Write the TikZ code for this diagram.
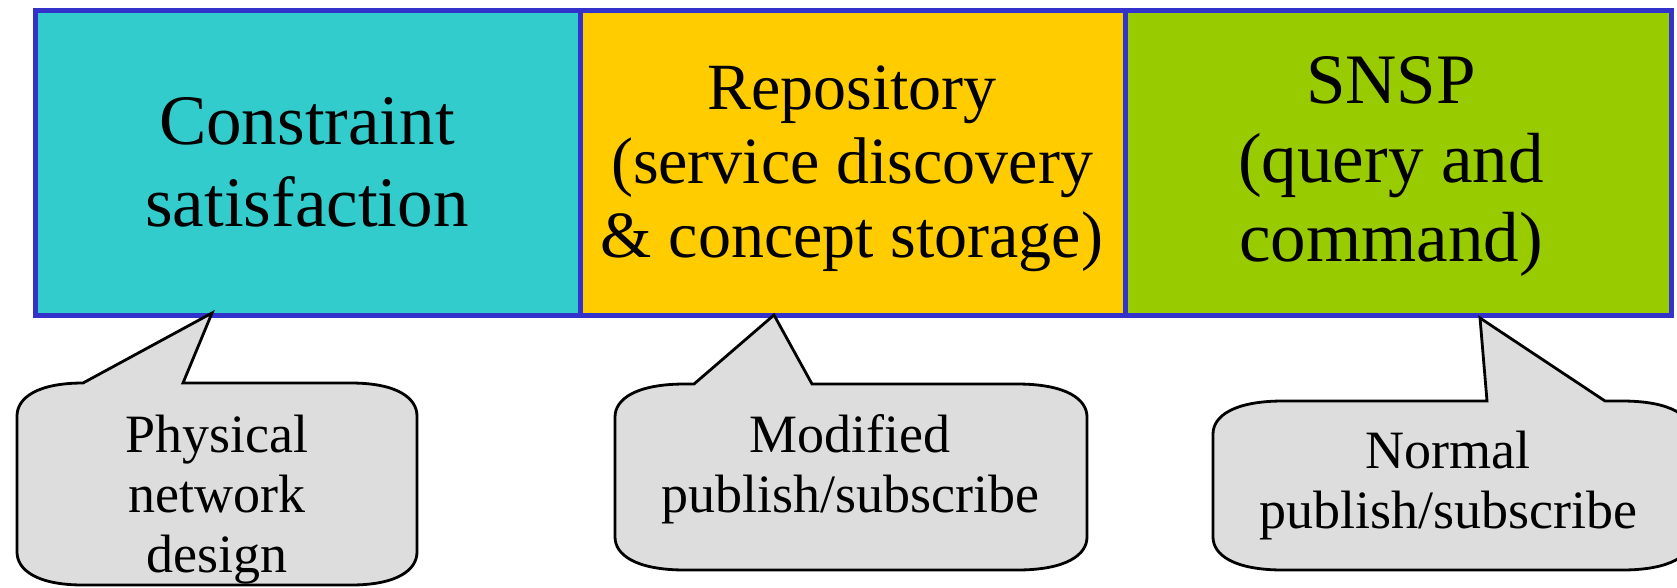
\documentclass[tikz,border=0pt]{standalone}
\usepackage{fontspec}
\setmainfont{Liberation Serif}
\definecolor{cyanfill}{HTML}{33CCCC}
\definecolor{yellowfill}{HTML}{FFCC00}
\definecolor{greenfill}{HTML}{99CC00}
\definecolor{panelborder}{HTML}{3333CC}
\definecolor{calloutfill}{HTML}{DDDDDD}
\tikzset{
  panel/.style={draw=panelborder, line width=5pt, minimum width=545.33pt,
    minimum height=305pt, inner sep=0pt},
  paneltext/.style={align=center, inner sep=0pt},
  callout/.style={draw=black, fill=calloutfill, line width=2.8pt, line join=miter},
  callouttext/.style={align=center, inner sep=0pt, font=\fontsize{54}{60}\selectfont}
}
\begin{document}
\begin{tikzpicture}[x=1pt,y=-1pt]
\useasboundingbox (0,0) rectangle (1677,587);
\clip (0,0) rectangle (1677,587);

% panels
\node[panel, fill=cyanfill] (p1) at (307.67,162.5) {};
\node[panel, fill=yellowfill] (p2) at (853,162.5) {};
\node[panel, fill=greenfill] (p3) at (1398.33,162.5) {};
\node[paneltext, font=\fontsize{71}{82}\selectfont] (t1) at (307,162.3) {Constraint\\satisfaction};
\node[paneltext, font=\fontsize{66}{74}\selectfont] (t2) at (852,168.5) {Repository\\(service discovery\\\& concept storage)};
\node[paneltext, font=\fontsize{71}{79}\selectfont] (t3) at (1391,166.8) {SNSP\\(query and\\command)};

% callout 1
\draw[callout] (17,416) .. controls (17,398) and (37,383) .. (83,383)
  -- (212,313) -- (183,383) -- (351,383)
  .. controls (397,383) and (417,398) .. (417,416)
  -- (417,552) .. controls (417,570) and (397,585) .. (351,585)
  -- (83,585) .. controls (37,585) and (17,570) .. (17,552) -- cycle;
\node[callouttext] (c1) at (217,499.4) {Physical\\network\\design};

% callout 2
\draw[callout] (615,417) .. controls (615,399) and (636,384) .. (685,384)
  -- (694,384) -- (774,315) -- (812,384) -- (1017,384)
  .. controls (1066,384) and (1087,399) .. (1087,417)
  -- (1087,537) .. controls (1087,555) and (1066,570) .. (1017,570)
  -- (685,570) .. controls (636,570) and (615,555) .. (615,537) -- cycle;
\node[callouttext] (c2) at (850,469.3) {Modified\\publish/subscribe};

% callout 3
\draw[callout] (1213,434) .. controls (1213,416) and (1234,401) .. (1283,401)
  -- (1487,401) -- (1480,318) -- (1605,401) -- (1622,401)
  .. controls (1671,401) and (1692,416) .. (1692,434)
  -- (1692,537) .. controls (1692,555) and (1671,570) .. (1622,570)
  -- (1283,570) .. controls (1234,570) and (1213,555) .. (1213,537) -- cycle;
\node[callouttext] (c3) at (1448,485.3) {Normal\\publish/subscribe};
\end{tikzpicture}
\end{document}
